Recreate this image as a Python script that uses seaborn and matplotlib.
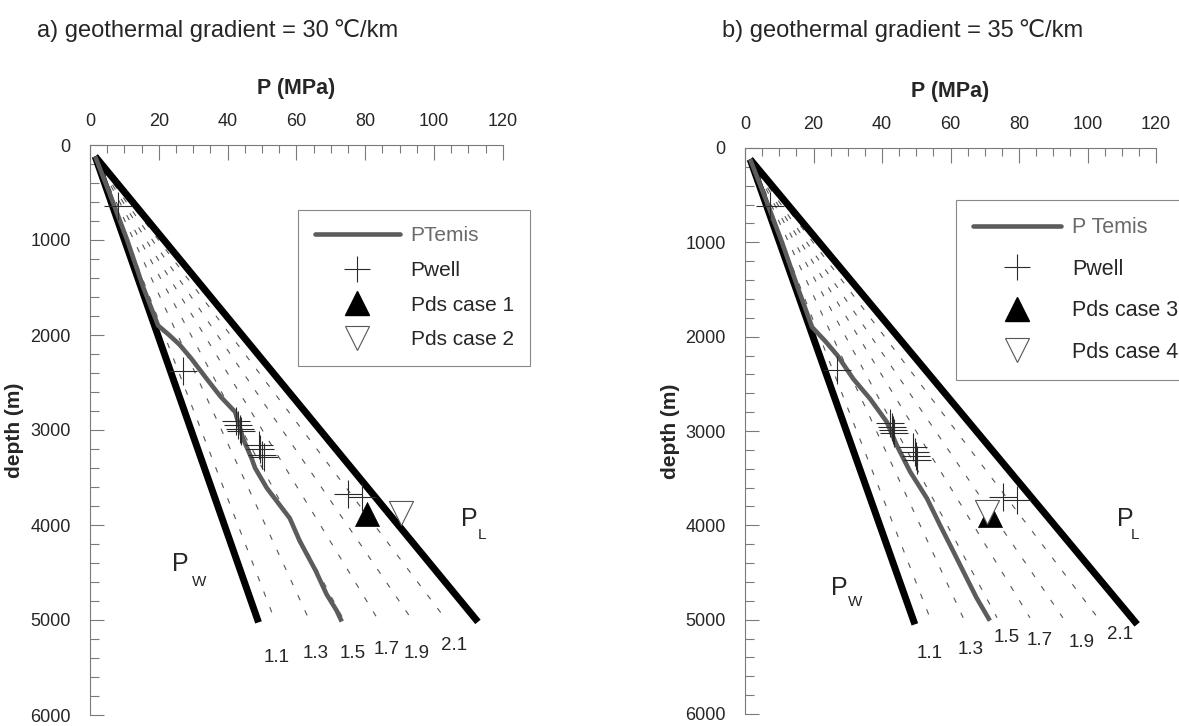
import numpy as np
import pandas as pd
import matplotlib
matplotlib.use('Agg')
import matplotlib.pyplot as plt
import seaborn as sns
from matplotlib.lines import Line2D
from matplotlib.ticker import MultipleLocator

# Configuration
FIGSIZE = (11.79, 7.26)
DPI = 100
THICK_LW = 5.0
TEMIS_LW = 3.3
TEMIS_COLOR = '#5c5c5c'
AXIS_GREY = '#7a7a7a'
FONT = ['Liberation Sans', 'DejaVu Sans']

RHO_LABELS = ['1.1', '1.3', '1.5', '1.7', '1.9', '2.1']

# ---- panel a (30 C/km) ----
PW_P_A = [1.5, 49.0]
PW_D_A = [120, 5025]
PL_P_A = [1.5, 112.8]
PL_D_A = [120, 5020]
RHO_END_P_A = [53.5, 63.5, 73.5, 83.5, 93.3, 103.2]
RHO_LAB_P_A = [54.4, 65.7, 76.5, 86.3, 95.0, 105.8]
RHO_LAB_D_A = [5390, 5350, 5350, 5310, 5350, 5270]
TEMIS_P_A = [1.5, 5.6, 10.8, 15.5, 19.8, 23.0, 26.0, 29.5, 33.9, 38.0, 42.2, 44.5,
             47.0, 48.0, 51.4, 58.1, 61.0, 65.6, 68.8, 71.7, 73.2]
TEMIS_D_A = [120, 500, 1000, 1500, 1900, 2000, 2100, 2250, 2460, 2650, 2810, 3090,
             3300, 3400, 3610, 3930, 4170, 4480, 4730, 4900, 5016]
WELL_P_A = [8.2, 27.0, 42.5, 43.0, 43.5, 44.0, 49.0, 49.5, 50.0, 50.5, 75.0, 79.0]
WELL_D_A = [640, 2380, 2910, 2950, 2985, 3015, 3160, 3200, 3260, 3280, 3670, 3700]
DS1_P = [80.4]
DS1_D = [3885]
DS2_P = [90.4]
DS2_D = [3870]

# ---- panel b (35 C/km) ----
PW_P_B = [1.5, 49.6]
PW_D_B = [120, 5050]
PL_P_B = [1.5, 114.5]
PL_D_B = [120, 5050]
RHO_END_P_B = [54.0, 63.7, 73.6, 83.2, 92.8, 103.0]
RHO_LAB_P_B = [54.0, 66.0, 76.5, 86.1, 98.4, 109.5]
RHO_LAB_D_B = [5360, 5320, 5190, 5225, 5245, 5160]
TEMIS_P_B = [1.5, 5.6, 10.8, 15.6, 19.6, 23.5, 27.0, 31.6, 36.5, 41.4, 44.3, 48.2,
             53.1, 56.9, 60.8, 64.2, 67.6, 71.5]
TEMIS_D_B = [120, 500, 1000, 1500, 1900, 2050, 2200, 2447, 2658, 2904, 3151, 3431,
             3713, 3995, 4275, 4522, 4768, 5011]
WELL_P_B = [7.3, 26.9, 42.3, 42.8, 43.2, 43.6, 49.0, 49.5, 50.0, 50.3, 75.4, 79.3]
WELL_D_B = [610, 2350, 2920, 2955, 2990, 3025, 3170, 3220, 3270, 3310, 3695, 3730]
DS3_P = [71.5]
DS3_D = [3890]
DS4_P = [70.6]
DS4_D = [3862]

RHO_END_D = 4980

sns.set_theme(style='ticks')
plt.rcParams['font.family'] = FONT
plt.rcParams['lines.scale_dashes'] = True

fig = plt.figure(figsize=FIGSIZE, dpi=DPI)
ax_a = fig.add_axes([90 / 1179, 11 / 726, 412.7 / 1179, 570 / 726])
ax_b = fig.add_axes([745 / 1179, 12 / 726, 411 / 1179, 566 / 726])


def draw_panel(ax, pw_p, pw_d, pl_p, pl_d, rho_end, lab_p, lab_d, temis_p, temis_d,
               well_p, well_d, up_p, up_d, dn_p, dn_d):
    # dashed density fan
    for p_end in rho_end:
        sns.lineplot(x=[pw_p[0], p_end], y=[pw_d[0], RHO_END_D], sort=False, estimator=None,
                     color='#555555', lw=0.8, linestyle=(0, (5, 10)), ax=ax)
    for txt, xp, yd in zip(RHO_LABELS, lab_p, lab_d):
        ax.text(xp, yd, txt, ha='center', va='center', fontsize=13.5)

    sns.lineplot(x=pw_p, y=pw_d, sort=False, estimator=None, color='black',
                 lw=THICK_LW, solid_capstyle='butt', ax=ax)
    sns.lineplot(x=pl_p, y=pl_d, sort=False, estimator=None, color='black',
                 lw=THICK_LW, solid_capstyle='butt', ax=ax)
    sns.lineplot(x=temis_p, y=temis_d, sort=False, estimator=None, color=TEMIS_COLOR,
                 lw=TEMIS_LW, solid_capstyle='butt', ax=ax)

    sns.scatterplot(x=well_p, y=well_d, marker='+', s=400, color='#2a2a2a',
                    linewidth=0.8, ax=ax, zorder=5)
    sns.scatterplot(x=up_p, y=up_d, marker='^', s=300, color='black',
                    edgecolor='black', linewidth=0.5, ax=ax, zorder=6)
    sns.scatterplot(x=dn_p, y=dn_d, marker='v', s=300, color='white',
                    edgecolor='#555555', linewidth=0.8, ax=ax, zorder=7)

    ax.set_xlim(0, 120)
    ax.set_ylim(6000, 0)
    ax.xaxis.tick_top()
    ax.xaxis.set_label_position('top')
    ax.xaxis.set_major_locator(MultipleLocator(20))
    ax.xaxis.set_minor_locator(MultipleLocator(5))
    ax.yaxis.set_major_locator(MultipleLocator(1000))
    ax.yaxis.set_minor_locator(MultipleLocator(200))
    ax.tick_params(axis='x', which='major', direction='in', length=11, width=0.8,
                   color=AXIS_GREY, labelsize=13, pad=10.5, top=True, bottom=False,
                   labeltop=True, labelbottom=False)
    ax.tick_params(axis='x', which='minor', direction='in', length=6, width=0.8,
                   color=AXIS_GREY, top=True, bottom=False)
    ax.tick_params(axis='y', which='major', direction='in', length=10, width=0.8,
                   color=AXIS_GREY, labelsize=13, pad=14)
    ax.tick_params(axis='y', which='minor', direction='in', length=6.5, width=0.8,
                   color=AXIS_GREY)
    for side in ['bottom', 'right']:
        ax.spines[side].set_visible(False)
    for side in ['top', 'left']:
        ax.spines[side].set_color(AXIS_GREY)
        ax.spines[side].set_linewidth(0.8)
    ax.set_xlabel('P (MPa)', fontsize=15.5, fontweight='bold', labelpad=14)
    ax.set_ylabel('depth (m)', fontsize=15, fontweight='bold', labelpad=4)
    ax.set_facecolor('none')


draw_panel(ax_a, PW_P_A, PW_D_A, PL_P_A, PL_D_A, RHO_END_P_A, RHO_LAB_P_A, RHO_LAB_D_A,
           TEMIS_P_A, TEMIS_D_A, WELL_P_A, WELL_D_A, DS1_P, DS1_D, DS2_P, DS2_D)
draw_panel(ax_b, PW_P_B, PW_D_B, PL_P_B, PL_D_B, RHO_END_P_B, RHO_LAB_P_B, RHO_LAB_D_B,
           TEMIS_P_B, TEMIS_D_B, WELL_P_B, WELL_D_B, DS3_P, DS3_D, DS4_P, DS4_D)

# P_W / P_L annotations
for ax, pw_xy, pw_sub, pl_xy, pl_sub in [
        (ax_a, (23.8, 4482), (29.6, 4639), (108.0, 4010), (112.6, 4147)),
        (ax_b, (25.0, 4736), (30.0, 4852), (108.5, 4008), (112.6, 4146))]:
    ax.text(*pw_xy, 'P', fontsize=18, ha='left', va='baseline')
    ax.text(*pw_sub, 'W', fontsize=11, ha='left', va='baseline')
    ax.text(*pl_xy, 'P', fontsize=18, ha='left', va='baseline')
    ax.text(*pl_sub, 'L', fontsize=11, ha='left', va='baseline')


def legend_handles(labels):
    return [
        Line2D([], [], color=TEMIS_COLOR, lw=TEMIS_LW, label=labels[0]),
        Line2D([], [], color='#2a2a2a', marker='+', ls='none', ms=19, mew=0.8, label=labels[1]),
        Line2D([], [], color='black', marker='^', ls='none', ms=17, label=labels[2]),
        Line2D([], [], marker='v', ls='none', ms=17, markerfacecolor='white',
               markeredgecolor='#555555', mew=0.8, label=labels[3]),
    ]


for ax, labels, anchor, spacing, fs in [
        (ax_a, ['PTemis', 'Pwell', 'Pds case 1', 'Pds case 2'], (0.504, 0.8866), 0.75, 15),
        (ax_b, ['P Temis', 'Pwell', 'Pds case 3', 'Pds case 4'], (0.513, 0.908), 0.95, 15.5)]:
    leg = ax.legend(handles=legend_handles(labels), loc='upper left', bbox_to_anchor=anchor,
                    borderaxespad=0, fontsize=fs, frameon=True, fancybox=False,
                    framealpha=1, edgecolor='#888888', handlelength=4.1,
                    handletextpad=0.5, labelspacing=spacing, borderpad=0.8)
    leg.get_frame().set_linewidth(0.8)
    leg.get_texts()[0].set_color('#6a6a6a')

fig.text(37 / 1179, 1 - 37 / 726, 'a) geothermal gradient = 30\u2009\u2103/km', fontsize=17,
         ha='left', va='baseline')
fig.text(722 / 1179, 1 - 37 / 726, 'b) geothermal gradient = 35\u2009\u2103/km', fontsize=17,
         ha='left', va='baseline')

fig.savefig('out.png', dpi=DPI)
plt.close(fig)
